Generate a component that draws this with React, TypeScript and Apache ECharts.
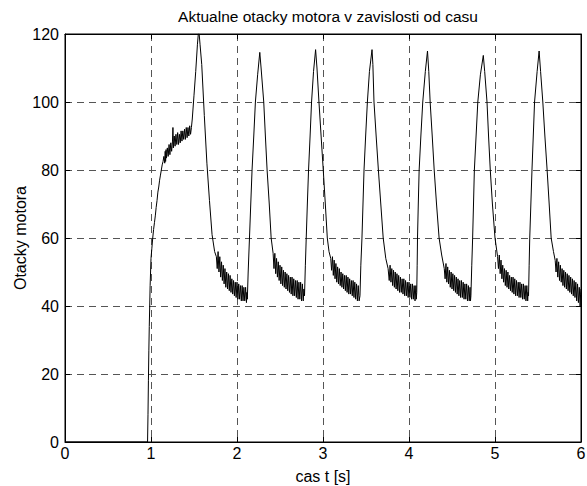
import React, { useEffect, useRef } from "react";
import * as echarts from "echarts";

const titleText = "Aktualne otacky motora v zavislosti od casu";
const xName = "cas t [s]";
const yName = "Otacky motora";
const xRange = [0, 6];
const yRange = [0, 120];
const xStep = 1;
const yStep = 20;

const startup: [number, number][] = [
  [0, 0], [0.96, 0], [0.965, 8], [0.97, 18], [0.975, 27], [0.98, 34], [0.985, 40], [0.99, 46], [0.995, 50],
  [1.0, 54], [1.01, 57], [1.02, 60], [1.03, 62.5], [1.04, 64.5], [1.05, 66.5], [1.06, 69], [1.07, 71],
  [1.08, 73.5], [1.09, 75], [1.1, 77], [1.11, 78.5], [1.12, 80], [1.13, 81.5], [1.14, 82.5], [1.15, 84],
  [1.16, 82], [1.165, 85.5], [1.17, 82.5], [1.175, 86], [1.18, 83.5], [1.19, 86.5], [1.2, 84], [1.21, 87.5],
  [1.22, 84.5], [1.23, 88], [1.24, 85.5], [1.25, 88.5], [1.255, 92.5], [1.26, 86.5], [1.27, 90], [1.28, 87],
  [1.29, 90.5], [1.3, 87.5], [1.31, 91], [1.32, 87.5], [1.33, 90.5], [1.34, 88], [1.35, 91.5], [1.36, 88.5],
  [1.37, 91.5], [1.38, 89], [1.39, 92], [1.4, 89], [1.41, 92.5], [1.42, 89.5], [1.43, 92.5], [1.44, 90],
  [1.45, 93], [1.46, 90.5], [1.47, 92.5],
];

const cycle1: [number, number][] = [
  [1.48, 95], [1.5, 102], [1.52, 109], [1.54, 117], [1.55, 120], [1.56, 120], [1.57, 117], [1.59, 111],
  [1.62, 96], [1.65, 82], [1.68, 71], [1.71, 61], [1.74, 56], [1.76, 54.5],
  [1.77, 51], [1.78, 56], [1.79, 50], [1.8, 54.5], [1.81, 48.5], [1.82, 53], [1.83, 47.5], [1.84, 52],
  [1.85, 46.5], [1.86, 51], [1.87, 45.5], [1.88, 50], [1.89, 45], [1.9, 49.5], [1.91, 44.5], [1.92, 49],
  [1.93, 44], [1.94, 48], [1.95, 43.5], [1.96, 47.5], [1.97, 43], [1.98, 47], [1.99, 42.5], [2.0, 47],
  [2.01, 42], [2.02, 46.5], [2.03, 42], [2.04, 46], [2.05, 41.5], [2.06, 46], [2.07, 41.5], [2.08, 45.5],
  [2.09, 41.5], [2.1, 45.5], [2.11, 41], [2.115, 44],
];

const cycle2: [number, number][] = [
  [2.12, 42], [2.13, 50], [2.145, 60], [2.16, 70], [2.175, 80], [2.195, 90], [2.214, 100], [2.24, 108],
  [2.265, 114.6], [2.28, 110], [2.311, 100], [2.33, 90], [2.35, 80], [2.375, 70], [2.397, 60], [2.42, 55.5],
  [2.43, 51], [2.44, 55.5], [2.45, 49.5], [2.46, 54], [2.47, 48.5], [2.48, 53], [2.49, 47.5], [2.5, 52],
  [2.51, 46.5], [2.52, 51.5], [2.53, 46], [2.54, 50.5], [2.55, 45.5], [2.56, 50], [2.57, 45], [2.58, 49.5],
  [2.59, 44.5], [2.6, 49], [2.61, 44], [2.62, 48.5], [2.63, 43.5], [2.64, 48.5], [2.65, 43], [2.66, 48],
  [2.67, 43], [2.68, 47.5], [2.69, 42.5], [2.7, 47.5], [2.71, 42], [2.72, 47], [2.73, 42], [2.74, 47],
  [2.75, 41.5], [2.76, 46.5], [2.77, 41.5], [2.778, 45],
];

const cycle3: [number, number][] = [
  [2.785, 43], [2.795, 52], [2.805, 60], [2.818, 70], [2.832, 80], [2.85, 90], [2.867, 100], [2.89, 109],
  [2.914, 115.4], [2.93, 110], [2.953, 100], [2.978, 90], [3.003, 80], [3.027, 70], [3.05, 60], [3.07, 56],
  [3.09, 54], [3.1, 50.5], [3.11, 54.5], [3.12, 49], [3.13, 53.5], [3.14, 48], [3.15, 52.5], [3.16, 47],
  [3.17, 51.5], [3.18, 46.5], [3.19, 51], [3.2, 46], [3.21, 50], [3.22, 45.5], [3.23, 49.5], [3.24, 45],
  [3.25, 49], [3.26, 44.5], [3.27, 49], [3.28, 44], [3.29, 48.5], [3.3, 43.5], [3.31, 48], [3.32, 43.5],
  [3.33, 47.5], [3.34, 43], [3.35, 47.5], [3.36, 42.5], [3.37, 47], [3.38, 42], [3.39, 46.5], [3.4, 41.5],
  [3.41, 46], [3.42, 41.5],
];

const cycle4: [number, number][] = [
  [3.43, 43], [3.44, 52], [3.453, 60], [3.465, 70], [3.477, 80], [3.496, 90], [3.516, 100], [3.54, 109],
  [3.57, 115.4], [3.58, 111], [3.593, 100], [3.618, 90], [3.644, 80], [3.672, 70], [3.7, 60], [3.73, 54],
  [3.757, 51], [3.77, 47.5], [3.78, 52], [3.79, 47], [3.8, 51], [3.81, 46], [3.82, 50.5], [3.83, 45.5],
  [3.84, 50], [3.85, 45], [3.86, 49.5], [3.87, 44.5], [3.88, 49], [3.89, 44], [3.9, 48.5], [3.91, 44],
  [3.92, 48], [3.93, 43.5], [3.94, 48], [3.95, 43], [3.96, 47.5], [3.97, 43], [3.98, 47], [3.99, 42.5],
  [4.0, 47], [4.01, 42.5], [4.02, 46.5], [4.03, 42], [4.04, 46.5], [4.05, 42], [4.06, 46], [4.07, 41.5],
  [4.08, 46], [4.085, 42],
];

const cycle5: [number, number][] = [
  [4.09, 44], [4.095, 52], [4.099, 60], [4.108, 70], [4.118, 80], [4.138, 90], [4.16, 100], [4.19, 109],
  [4.215, 115], [4.23, 109], [4.246, 100], [4.27, 90], [4.293, 80], [4.32, 70], [4.35, 60], [4.38, 55],
  [4.41, 51], [4.42, 48], [4.43, 52.5], [4.44, 47], [4.45, 51.5], [4.46, 46.5], [4.47, 50.5], [4.48, 45.5],
  [4.49, 50], [4.5, 45], [4.51, 49.5], [4.52, 44.5], [4.53, 49], [4.54, 44], [4.55, 48.5], [4.56, 43.5],
  [4.57, 48], [4.58, 43], [4.59, 47.5], [4.6, 42.5], [4.61, 47.5], [4.62, 42.5], [4.63, 47], [4.64, 42],
  [4.65, 46.5], [4.66, 42], [4.67, 46.5], [4.68, 41.5], [4.69, 46], [4.7, 41.5], [4.71, 45.5], [4.715, 41.5],
];

const cycle6: [number, number][] = [
  [4.72, 43], [4.73, 52], [4.74, 60], [4.75, 70], [4.76, 80], [4.78, 90], [4.8, 100], [4.83, 108],
  [4.864, 113.7], [4.88, 109], [4.907, 100], [4.925, 90], [4.945, 80], [4.97, 70], [5.0, 60], [5.03, 54.5],
  [5.04, 51], [5.05, 55], [5.06, 49.5], [5.07, 53.5], [5.08, 48], [5.09, 52], [5.1, 47], [5.11, 51],
  [5.12, 46], [5.13, 50.5], [5.14, 45.5], [5.15, 50], [5.16, 45], [5.17, 49], [5.18, 44.5], [5.19, 48.5],
  [5.2, 44], [5.21, 48.5], [5.22, 43.5], [5.23, 48], [5.24, 43], [5.25, 47.5], [5.26, 43], [5.27, 47],
  [5.28, 42.5], [5.29, 47], [5.3, 42.5], [5.31, 46.5], [5.32, 42], [5.33, 46.5], [5.34, 42], [5.35, 46],
  [5.36, 41.5], [5.37, 46], [5.38, 41.5], [5.385, 44],
];

const cycle7: [number, number][] = [
  [5.39, 43], [5.397, 52], [5.404, 60], [5.417, 70], [5.43, 80], [5.445, 90], [5.46, 100], [5.49, 109],
  [5.513, 115], [5.53, 109], [5.556, 100], [5.58, 90], [5.606, 80], [5.63, 70], [5.653, 60], [5.68, 56],
  [5.7, 53.4], [5.71, 50], [5.72, 54], [5.73, 48.5], [5.74, 53], [5.75, 47.5], [5.76, 52], [5.77, 47],
  [5.78, 51], [5.79, 46], [5.8, 50.5], [5.81, 45.5], [5.82, 50], [5.83, 45], [5.84, 49.5], [5.85, 44.5],
  [5.86, 49], [5.87, 44], [5.88, 48.5], [5.89, 43.5], [5.9, 48], [5.91, 43], [5.92, 47.5], [5.93, 42.5],
  [5.94, 47], [5.95, 41.5], [5.96, 46.5], [5.97, 41], [5.98, 45.5], [5.99, 40], [5.995, 43.5], [6.0, 45],
];

const FONT = "'Liberation Sans', Arial, Helvetica, sans-serif";

export default function App() {
  const ref = useRef<HTMLDivElement>(null);

  useEffect(() => {
    document.body.style.margin = "0";
    if (!ref.current) return;
    const chart = echarts.init(ref.current, undefined, { renderer: "svg" });
    const data = [
      ...startup, ...cycle1, ...cycle2, ...cycle3, ...cycle4, ...cycle5, ...cycle6, ...cycle7,
    ];
    const gridDash = {
      show: true,
      lineStyle: { color: "#555", width: 1, type: [7, 5] as number[] },
    };
    const tickStyle = { show: true, inside: true, length: 5, lineStyle: { color: "#000", width: 1 } };
    const axisLineStyle = { show: true, onZero: false, lineStyle: { color: "#000", width: 1 } };
    const labelStyle = { color: "#000", fontFamily: FONT, fontSize: 16 };

    chart.setOption({
      animation: false,
      backgroundColor: "#fff",
      title: {
        text: titleText,
        left: 323,
        textAlign: "center",
        top: 3,
        textStyle: { color: "#000", fontFamily: FONT, fontSize: 15.5, fontWeight: "normal" },
      },
      grid: {
        left: 65,
        right: 6,
        top: 34,
        bottom: 44,
        containLabel: false,
        outerBoundsMode: "none",
        show: true,
        borderColor: "#000",
        borderWidth: 1,
        backgroundColor: "#fff",
      },
      xAxis: [
        {
          type: "value",
          min: xRange[0],
          max: xRange[1],
          interval: xStep,
          name: xName,
          nameLocation: "middle",
          nameGap: 26,
          nameMoveOverlap: false,
          nameTextStyle: { color: "#000", fontFamily: FONT, fontSize: 16 },
          axisLine: axisLineStyle,
          axisTick: tickStyle,
          axisLabel: { ...labelStyle, margin: 3 },
          splitLine: gridDash,
        },
        {
          type: "value",
          position: "top",
          min: xRange[0],
          max: xRange[1],
          interval: xStep,
          axisLine: axisLineStyle,
          axisTick: tickStyle,
          axisLabel: { show: false },
          splitLine: { show: false },
        },
      ],
      yAxis: [
        {
          type: "value",
          min: yRange[0],
          max: yRange[1],
          interval: yStep,
          name: yName,
          nameLocation: "middle",
          nameGap: 37,
          nameMoveOverlap: false,
          nameTextStyle: { color: "#000", fontFamily: FONT, fontSize: 16 },
          axisLine: axisLineStyle,
          axisTick: tickStyle,
          axisLabel: { ...labelStyle, margin: 6 },
          splitLine: gridDash,
        },
        {
          type: "value",
          position: "right",
          min: yRange[0],
          max: yRange[1],
          interval: yStep,
          axisLine: axisLineStyle,
          axisTick: tickStyle,
          axisLabel: { show: false },
          splitLine: { show: false },
        },
      ],
      series: [
        {
          type: "line",
          data,
          showSymbol: false,
          symbol: "none",
          lineStyle: { color: "#000", width: 1 },
          silent: true,
          clip: true,
        },
      ],
    });
    return () => chart.dispose();
  }, []);

  return <div ref={ref} style={{ width: 587, height: 486 }} />;
}
